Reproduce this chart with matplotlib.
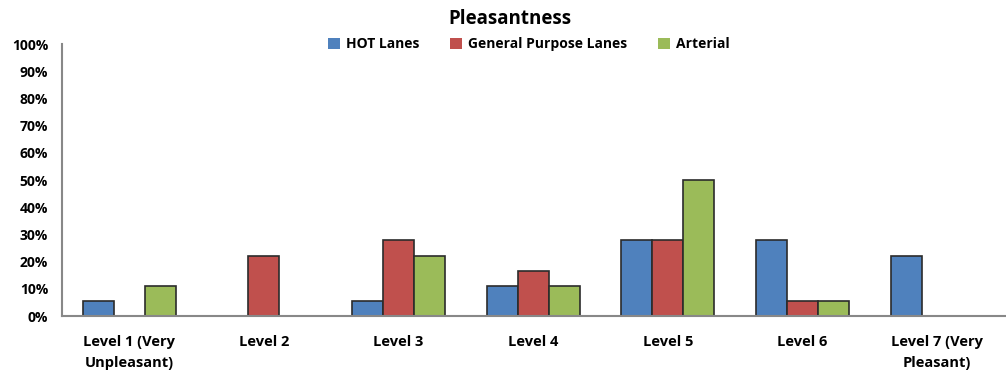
import numpy as np
import matplotlib.pyplot as plt
from matplotlib.ticker import PercentFormatter

levels = ['Level 1 (Very\nUnpleasant)', 'Level 2', 'Level 3', 'Level 4',
          'Level 5', 'Level 6', 'Level 7 (Very\nPleasant)']
hot_lanes = [5.6, 0, 5.6, 11.1, 27.8, 27.8, 22.2]
general_purpose = [0, 22.2, 27.8, 16.7, 27.8, 5.6, 0]
arterial = [11.1, 0, 22.2, 11.1, 50.0, 5.6, 0]

series = [('HOT Lanes', hot_lanes, '#4F81BD'),
          ('General Purpose Lanes', general_purpose, '#C0504D'),
          ('Arterial', arterial, '#9BBB59')]

plt.rcParams['font.family'] = ['Open Sans', 'DejaVu Sans']
plt.rcParams['font.weight'] = 'bold'

fig = plt.figure(figsize=(10.06, 3.74), dpi=100)
ax = fig.add_axes([0.0616, 0.155, 0.937, 0.727])

x = np.arange(len(levels))
w = 0.23
for i, (name, vals, color) in enumerate(series):
    ax.bar(x + (i - 1) * w, vals, w, color=color, edgecolor='#2b2b2b',
           linewidth=1.2, label=name)

ax.set_xlim(-0.5, len(levels) - 0.5)
ax.set_ylim(0, 100)
ax.set_yticks(np.arange(0, 101, 10))
ax.yaxis.set_major_formatter(PercentFormatter(decimals=0))
ax.set_xticks(x)
ax.set_xticklabels(levels, fontsize=10.5, fontweight='bold', linespacing=1.55)
ax.tick_params(axis='both', length=0)
ax.tick_params(axis='y', labelsize=10, pad=10)
ax.tick_params(axis='x', pad=14)

for side in ['top', 'right']:
    ax.spines[side].set_visible(False)
for side in ['left', 'bottom']:
    ax.spines[side].set_color('#888888')
    ax.spines[side].set_linewidth(1.5)

fig.text(0.507, 0.949, 'Pleasantness', ha='center', va='center',
         fontsize=13.5, fontweight='bold')
leg = ax.legend(loc='center', bbox_to_anchor=(0.495, 1.0), ncol=3,
                frameon=False, fontsize=10, handlelength=0.9,
                handleheight=0.9, handletextpad=0.4, columnspacing=2.2)
for h in leg.legend_handles:
    h.set_edgecolor('none')

fig.savefig('out.png', dpi=100)
